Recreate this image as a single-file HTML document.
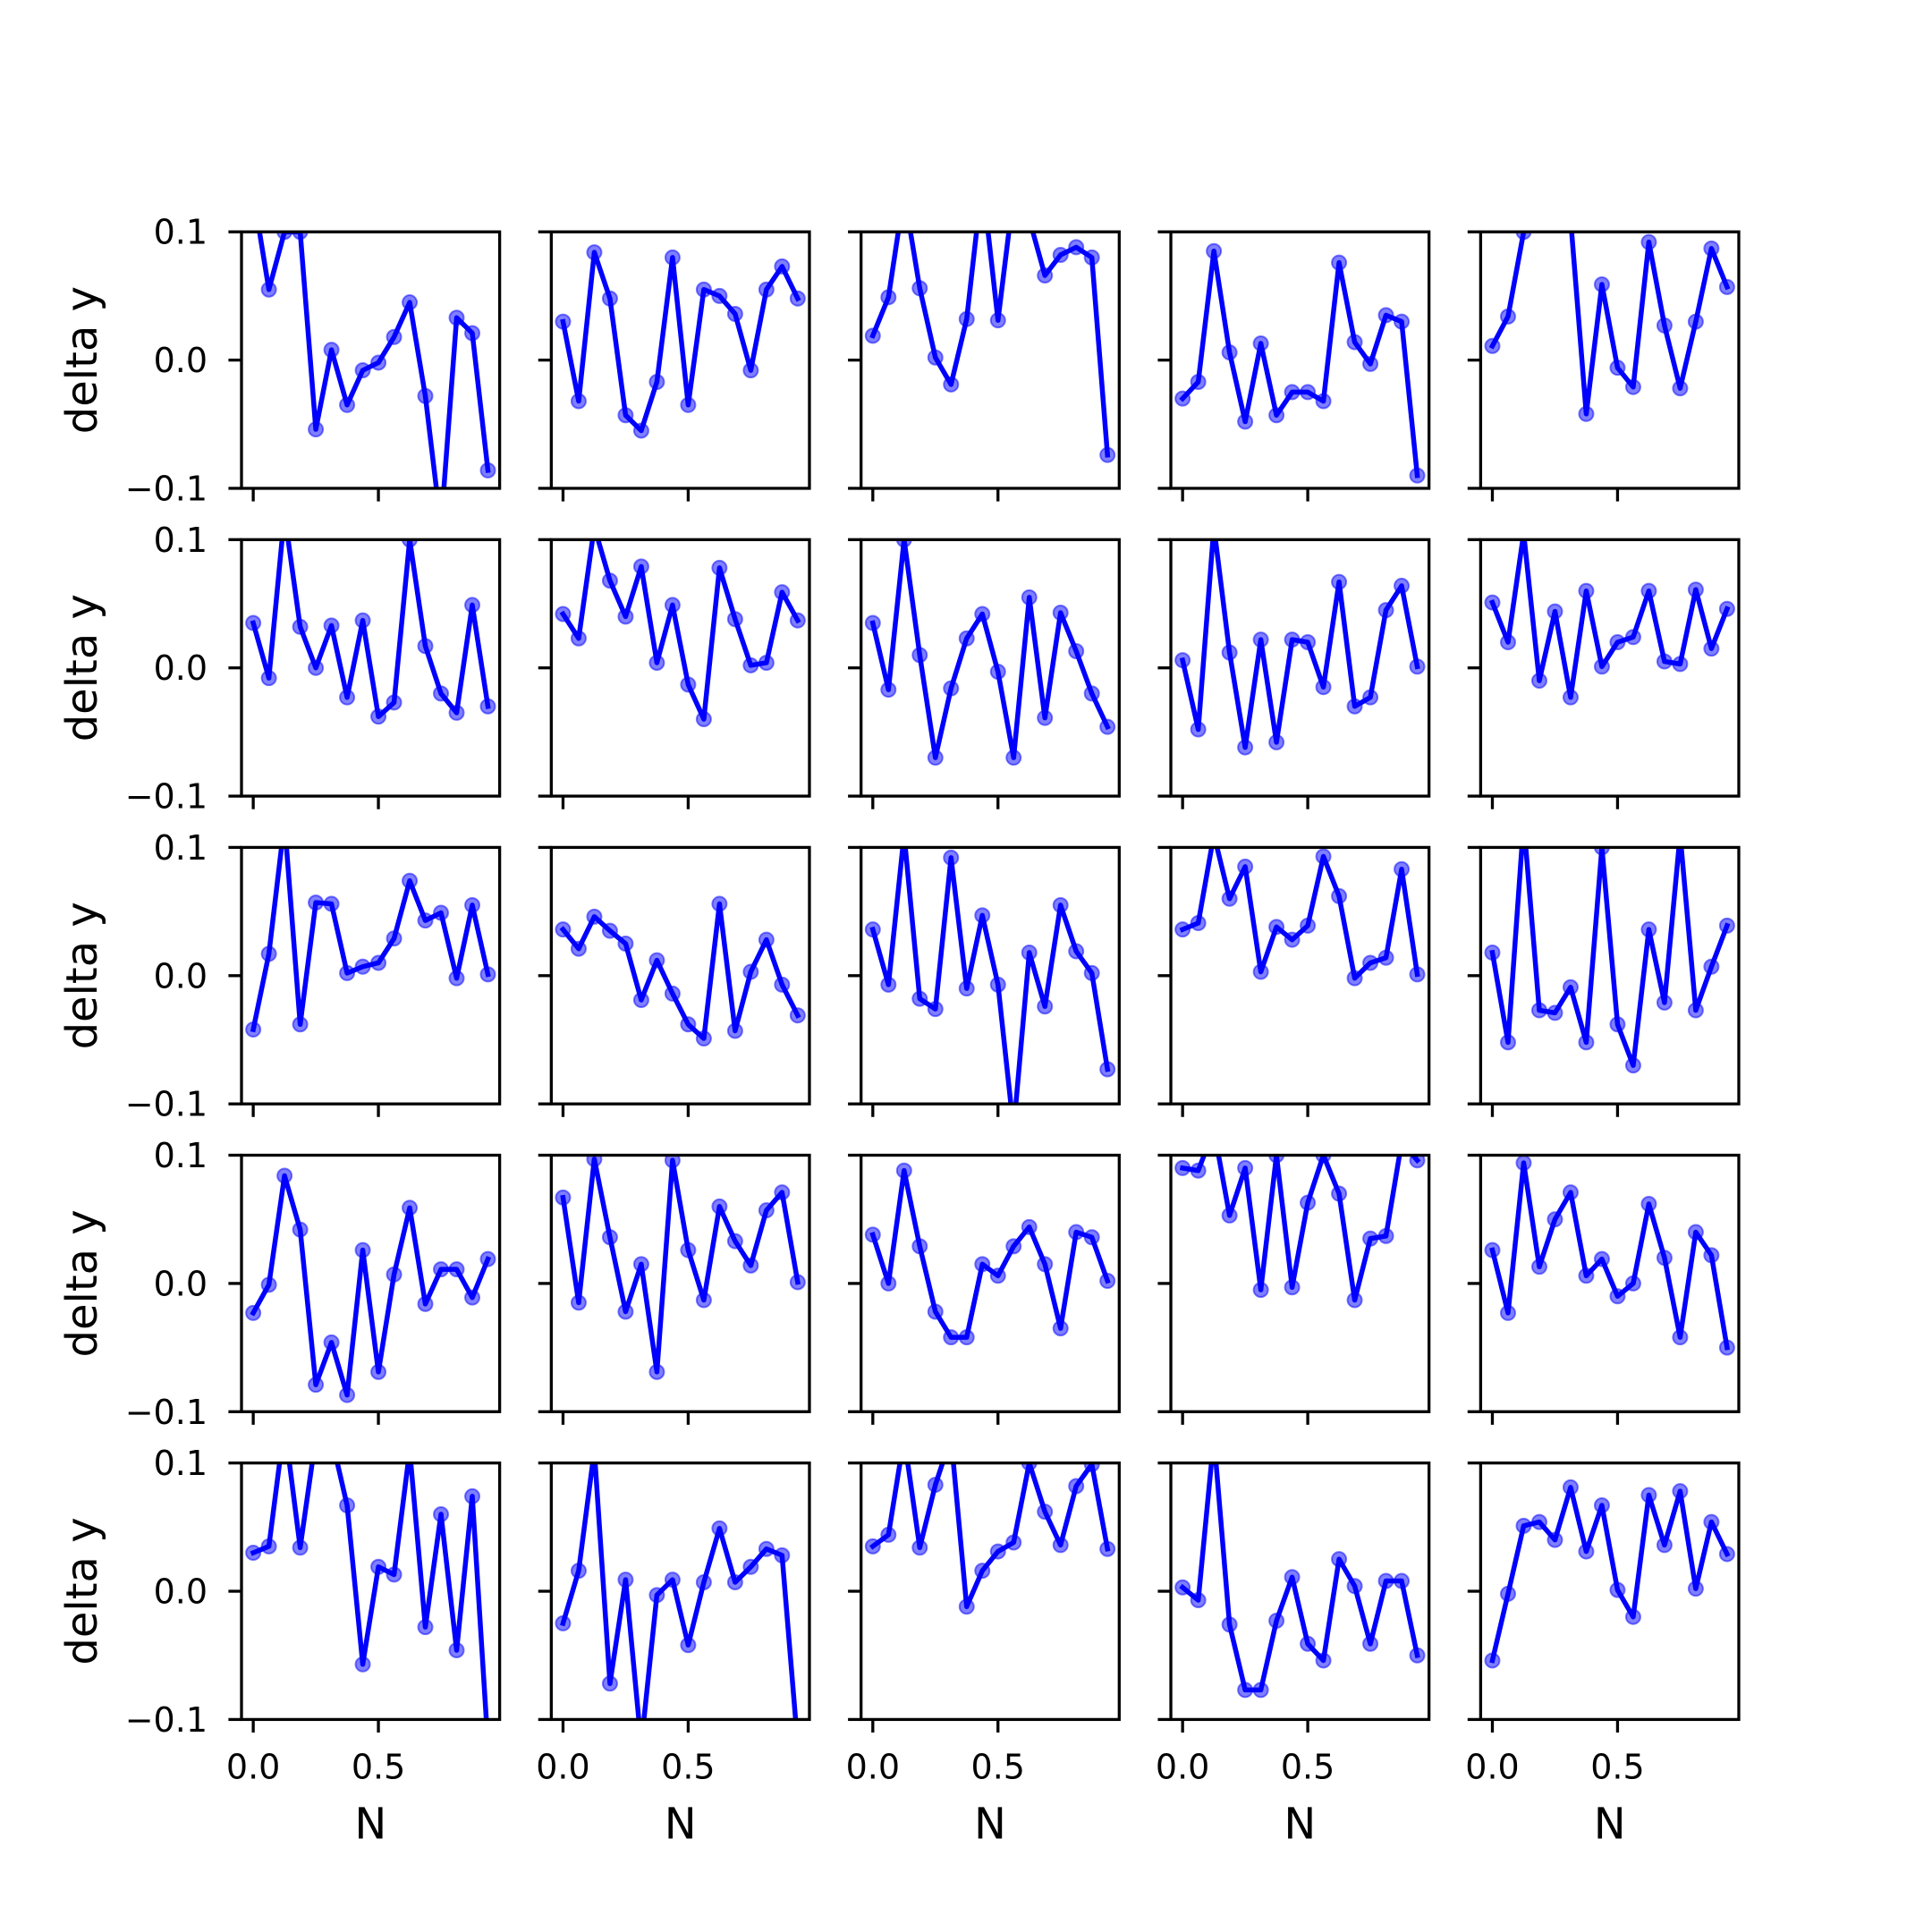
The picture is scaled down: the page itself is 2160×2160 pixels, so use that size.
<!DOCTYPE html>
<html><head><meta charset="utf-8"><style>
html,body{margin:0;padding:0;background:#fff;}
svg{display:block;font-family:"DejaVu Sans","Liberation Sans",sans-serif;}
</style></head>
<body>
<svg id="fig" width="2160" height="2160" viewBox="0 0 2160 2160" xmlns="http://www.w3.org/2000/svg">
<rect width="2160" height="2160" fill="#fff"/>
</svg>
<script>
const xValues = [0,0.0625,0.125,0.1875,0.25,0.3125,0.375,0.4375,0.5,0.5625,0.625,0.6875,0.75,0.8125,0.875,0.9375];
const xTickLabels = ["0.0","0.5"];
const xTickValues = [0,0.5];
const yTickLabels = ["\u22120.1","0.0","0.1"];
const yTickValues = [-0.1,0,0.1];
const r0c0 = [0.13,0.055,0.1,0.1,-0.054,0.008,-0.035,-0.008,-0.002,0.018,0.045,-0.028,-0.13,0.033,0.021,-0.086];
const r0c1 = [0.03,-0.032,0.084,0.048,-0.043,-0.055,-0.017,0.08,-0.035,0.055,0.05,0.036,-0.008,0.055,0.073,0.048];
const r0c2 = [0.019,0.049,0.13,0.056,0.002,-0.019,0.032,0.14,0.031,0.13,0.11,0.066,0.082,0.088,0.08,-0.074];
const r0c3 = [-0.03,-0.017,0.085,0.006,-0.048,0.013,-0.043,-0.025,-0.025,-0.032,0.076,0.014,-0.003,0.035,0.03,-0.09];
const r0c4 = [0.011,0.034,0.1,0.15,0.14,0.11,-0.042,0.059,-0.006,-0.021,0.092,0.027,-0.022,0.03,0.087,0.057];
const r1c0 = [0.035,-0.008,0.12,0.032,0.0,0.033,-0.023,0.037,-0.038,-0.027,0.1,0.017,-0.02,-0.035,0.049,-0.03];
const r1c1 = [0.042,0.023,0.11,0.068,0.04,0.079,0.004,0.049,-0.013,-0.04,0.078,0.038,0.002,0.004,0.059,0.037];
const r1c2 = [0.035,-0.017,0.1,0.01,-0.07,-0.016,0.023,0.042,-0.003,-0.07,0.055,-0.039,0.043,0.013,-0.02,-0.046];
const r1c3 = [0.006,-0.048,0.11,0.012,-0.062,0.022,-0.058,0.022,0.02,-0.015,0.067,-0.03,-0.023,0.045,0.064,0.001];
const r1c4 = [0.051,0.02,0.105,-0.01,0.044,-0.023,0.06,0.001,0.02,0.024,0.06,0.005,0.003,0.061,0.015,0.046];
const r2c0 = [-0.042,0.017,0.12,-0.038,0.057,0.056,0.002,0.007,0.01,0.029,0.074,0.043,0.049,-0.002,0.055,0.001];
const r2c1 = [0.036,0.021,0.046,0.035,0.025,-0.019,0.012,-0.014,-0.038,-0.049,0.056,-0.043,0.003,0.028,-0.007,-0.031];
const r2c2 = [0.036,-0.007,0.11,-0.018,-0.026,0.092,-0.01,0.047,-0.007,-0.12,0.018,-0.024,0.055,0.019,0.002,-0.073];
const r2c3 = [0.036,0.041,0.11,0.06,0.085,0.003,0.038,0.028,0.039,0.093,0.062,-0.002,0.01,0.014,0.083,0.001];
const r2c4 = [0.018,-0.052,0.12,-0.027,-0.029,-0.009,-0.052,0.1,-0.038,-0.07,0.036,-0.021,0.11,-0.027,0.007,0.039];
const r3c0 = [-0.023,-0.001,0.084,0.042,-0.079,-0.046,-0.087,0.026,-0.069,0.007,0.059,-0.016,0.011,0.011,-0.011,0.019];
const r3c1 = [0.067,-0.015,0.097,0.036,-0.022,0.015,-0.069,0.096,0.026,-0.013,0.06,0.033,0.014,0.057,0.071,0.001];
const r3c2 = [0.038,0.0,0.088,0.029,-0.022,-0.042,-0.042,0.015,0.006,0.029,0.044,0.015,-0.035,0.04,0.036,0.002];
const r3c3 = [0.09,0.088,0.12,0.053,0.09,-0.005,0.1,-0.003,0.063,0.1,0.07,-0.013,0.035,0.037,0.11,0.096];
const r3c4 = [0.026,-0.023,0.094,0.013,0.05,0.071,0.006,0.019,-0.01,0.0,0.062,0.02,-0.042,0.04,0.022,-0.05];
const r4c0 = [0.03,0.035,0.13,0.034,0.12,0.12,0.067,-0.057,0.019,0.013,0.11,-0.028,0.06,-0.046,0.074,-0.12];
const r4c1 = [-0.025,0.016,0.11,-0.072,0.009,-0.12,-0.003,0.009,-0.042,0.007,0.049,0.007,0.019,0.033,0.028,-0.12];
const r4c2 = [0.035,0.044,0.12,0.034,0.083,0.12,-0.012,0.016,0.031,0.038,0.1,0.062,0.036,0.082,0.099,0.033];
const r4c3 = [0.003,-0.007,0.12,-0.026,-0.077,-0.077,-0.023,0.011,-0.041,-0.054,0.025,0.004,-0.041,0.008,0.008,-0.05];
const r4c4 = [-0.054,-0.002,0.051,0.054,0.04,0.081,0.031,0.067,0.001,-0.02,0.075,0.036,0.078,0.002,0.054,0.029];
const panels = [[r0c0,r0c1,r0c2,r0c3,r0c4],[r1c0,r1c1,r1c2,r1c3,r1c4],[r2c0,r2c1,r2c2,r2c3,r2c4],[r3c0,r3c1,r3c2,r3c3,r3c4],[r4c0,r4c1,r4c2,r4c3,r4c4]];

const NS = "http://www.w3.org/2000/svg";
const svg = document.getElementById('fig');
function mk(tag, attrs, parent){ const e=document.createElementNS(NS,tag); for(const k in attrs) e.setAttribute(k,attrs[k]); (parent||svg).appendChild(e); return e; }

const AX_W = 2160*0.775/5.8, AX_H = 2160*0.77/5.8;
const STEP_X = AX_W*1.2, STEP_Y = AX_H*1.2;
const X0 = 2160*0.125, Y0 = 2160*0.12;
const xr = xValues[xValues.length-1]-xValues[0];
const xmin = xValues[0]-0.05*xr, xmax = xValues[xValues.length-1]+0.05*xr;
const ymin = -0.1, ymax = 0.1;
const defs = mk('defs',{});

for(let r=0;r<5;r++){
  for(let c=0;c<5;c++){
    const L = X0 + c*STEP_X, T = Y0 + r*STEP_Y;
    const sx = v => L + (v-xmin)/(xmax-xmin)*AX_W;
    const sy = v => T + AX_H - (v-ymin)/(ymax-ymin)*AX_H;
    const g = mk('g',{});
    
    
    const cp = mk('clipPath',{id:'cp'+r+c},defs);
    mk('rect',{x:L,y:T,width:AX_W,height:AX_H},cp);
    const data = panels[r][c];
    const pts = data.map((v,i)=>sx(xValues[i]).toFixed(2)+','+sy(v).toFixed(2)).join(' ');
    const sg = mk('g',{'clip-path':'url(#cp'+r+c+')'},g);
    const line = mk('polyline',{points:pts,fill:'none',stroke:'#0000ff','stroke-width':5.5,'stroke-linejoin':'round','stroke-linecap':'square'},sg);
    
    
    data.forEach((v,i)=>{
      const m = mk('circle',{cx:sx(xValues[i]),cy:sy(v),r:8,fill:'#0000ff','fill-opacity':0.5,stroke:'#0000ff','stroke-opacity':0.5,'stroke-width':2},sg);
      
      
    });
    const frame = mk('rect',{x:L,y:T,width:AX_W,height:AX_H,fill:'none',stroke:'#000','stroke-width':3.3},g);
    
    
    // x ticks
    xTickValues.forEach((v,i)=>{
      const x = sx(v);
      mk('line',{x1:x,y1:T+AX_H,x2:x,y2:T+AX_H+14.6,stroke:'#000','stroke-width':3.3},g);
      if(r===4){
        const t = mk('text',{x:x,y:T+AX_H+66,'font-size':38,'text-anchor':'middle',fill:'#000'},g);
        t.textContent = xTickLabels[i];
        
        
      }
    });
    yTickValues.forEach((v,i)=>{
      const y = sy(v);
      mk('line',{x1:L,y1:y,x2:L-14.6,y2:y,stroke:'#000','stroke-width':3.3},g);
      if(c===0){
        const t = mk('text',{x:L-38,y:y+13.5,'font-size':38,'text-anchor':'end',fill:'#000'},g);
        t.textContent = yTickLabels[i];
        
        
      }
    });
    if(c===0){
      const yl = mk('text',{x:0,y:0,'font-size':48,'text-anchor':'middle',fill:'#000',transform:'translate('+(L-162)+','+(T+AX_H/2)+') rotate(-90)'},g);
      yl.textContent = 'delta y';
      
      
    }
    if(r===4){
      const xl = mk('text',{x:L+AX_W/2,y:T+AX_H+133,'font-size':48,'text-anchor':'middle',fill:'#000'},g);
      xl.textContent = 'N';
      
      
    }
  }
}
</script>
</body></html>
